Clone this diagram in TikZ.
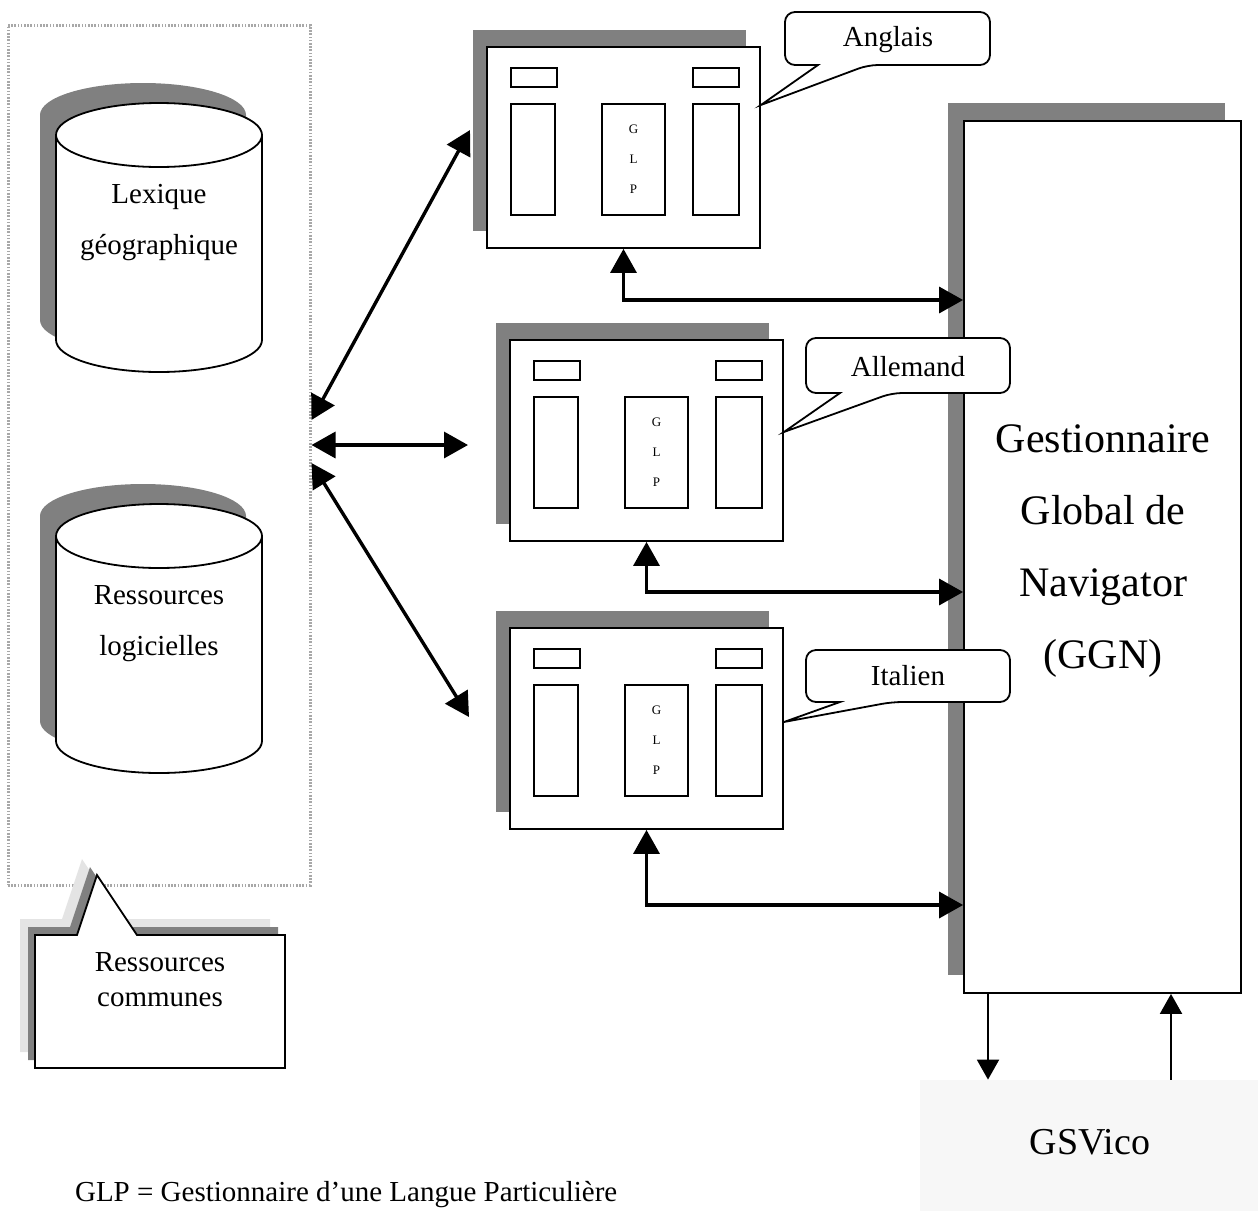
\documentclass[tikz,border=0pt]{standalone}
\usepackage{fontspec}
\setmainfont{Liberation Serif}
\usetikzlibrary{positioning, arrows.meta, fit, calc, shadows}
\definecolor{shadowgray}{HTML}{808080}
\definecolor{pale}{HTML}{E4E4E4}
\definecolor{dots}{HTML}{A8A8A8}
\definecolor{fog}{HTML}{F7F7F7}

\begin{document}
\begin{tikzpicture}[
    x=0.5pt, y=-0.5pt,
    win/.style={draw, line width=0.9pt, fill=white, inner sep=0pt, general shadow={fill=shadowgray, shadow xshift=-7pt, shadow yshift=8.5pt}},
    pane/.style={draw, line width=0.9pt, inner sep=0pt},
    cyl/.style={draw, line width=0.9pt, fill=white},
    bubble/.style={draw, line width=0.9pt, fill=white, rounded corners=5pt},
    arr/.style={{Triangle[length=12pt,width=13pt]}-{Triangle[length=12pt,width=13pt]}, line width=1.7pt},
    link/.style={-{Triangle[length=10pt,width=11pt]}, line width=1pt},
    every node/.style={font=\fontsize{14.5}{17.5}\selectfont}
]
\useasboundingbox (0,0) rectangle (1258,1211);

% Common resources
\node[fit={(8,25) (310,885)}, inner sep=0pt, draw=dots, dash pattern=on 0.8pt off 0.8pt, line width=1.5pt] (res) {};
\foreach \nm/\dy/\txt in {lex/0/{Lexique\\géographique}, log/401/{Ressources\\logicielles}} {
    \begin{scope}[shift={(0,\dy)}]
    \fill[shadowgray] (40,115) -- (40,320) arc[start angle=180, end angle=0, x radius=103, y radius=32] -- (246,115) arc[start angle=0, end angle=-180, x radius=103, y radius=32] -- cycle;
    \draw[cyl] (56,135) -- (56,340) arc[start angle=180, end angle=0, x radius=103, y radius=32] -- (262,135) arc[start angle=0, end angle=-180, x radius=103, y radius=32] -- cycle;
    \draw[cyl] (56,135) arc[start angle=180, end angle=0, x radius=103, y radius=32];
    \node[align=center, font=\fontsize{14.5}{25.5}\selectfont] (\nm) at (159,223) {\txt};
    \end{scope}
}
\draw[line width=0.9pt, fill=white,
    general shadow={fill=pale, shadow xshift=-7.5pt, shadow yshift=8pt},
    general shadow={fill=shadowgray, shadow xshift=-3.5pt, shadow yshift=4pt}]
    (35,935) -- (77,935) -- (97,875) -- (137,935) -- (285,935) -- (285,1068) -- (35,1068) -- cycle;
\node[align=center] (com) at (160,980) {Ressources\\communes};

% Language windows
\foreach \nm/\x/\y in {ang/487/47, all/510/340, ita/510/628} {
    \node[win, fit={(\x,\y) (\x+273,\y+201)}] (\nm) {};
    \draw[pane] (\x+24,\y+21) rectangle (\x+70,\y+40);
    \draw[pane] (\x+206,\y+21) rectangle (\x+252,\y+40);
    \draw[pane] (\x+24,\y+57) rectangle (\x+68,\y+168);
    \draw[pane] (\x+206,\y+57) rectangle (\x+252,\y+168);
    \node[pane, fit={(\x+115,\y+57) (\x+178,\y+168)}] (\nm glp) {};
    \node[align=center, font=\fontsize{6.5}{15}\selectfont] (\nm letters) at (\nm glp) {G\\L\\P};
}

% Global manager
\node[fit={(964,121) (1241,993)}, draw, line width=0.9pt, fill=white, inner sep=0pt, general shadow={fill=shadowgray, shadow xshift=-8pt, shadow yshift=9pt}] (ggn) {};
\node[align=center, font=\fontsize{21}{36}\selectfont] (ggntxt) at (1103,551) {Gestionnaire\\Global de\\Navigator\\(GGN)};
\node[fit={(920,1080) (1258,1211)}, fill=fog, inner sep=0pt] (gsv) {};
\node[font=\fontsize{19}{21}\selectfont] (gsvtxt) at (1090,1142) {GSVico};

% Callouts
\draw[bubble] (900,12) -- (990,12) -- (990,65) -- (868,65) [sharp corners] -- (ang.north east |- 0,105) -- (818,65) [rounded corners=5pt] -- (785,65) -- (785,12) -- cycle;
\node (angtag) at (888,40) {Anglais};
\draw[bubble] (900,338) -- (1010,338) -- (1010,393) -- (892,393) [sharp corners] -- (all.north east |- 0,432) -- (840,393) [rounded corners=5pt] -- (806,393) -- (806,338) -- cycle;
\node (alltag) at (908,367) {Allemand};
\draw[bubble] (900,650) -- (1010,650) -- (1010,702) -- (892,702) [sharp corners] -- (ita.north east |- 0,722) -- (840,702) [rounded corners=5pt] -- (806,702) -- (806,650) -- cycle;
\node (itatag) at (908,676) {Italien};

% Arrows
\coordinate (angin) at (470,130);
\coordinate (allin) at (468,445);
\coordinate (itain) at (469,717);
\draw[arr] (res.east |- 0,420) -- (angin);
\draw[arr] (res.east |- 0,445) -- (allin);
\draw[arr] (res.east |- 0,463) -- (itain);
\foreach \nm/\yy in {ang/300, all/592, ita/905} {
    \draw[arr] (\nm.south) |- (ggn.west |- 0,\yy);
}
\draw[link] (988,0 |- ggn.south) -- (988,0 |- gsv.north);
\draw[link] (1171,0 |- gsv.north) -- (1171,0 |- ggn.south);

% Legend
\node[anchor=west] (note) at (68,1195) {GLP = Gestionnaire d’une Langue Particulière};

\end{tikzpicture}
\end{document}
